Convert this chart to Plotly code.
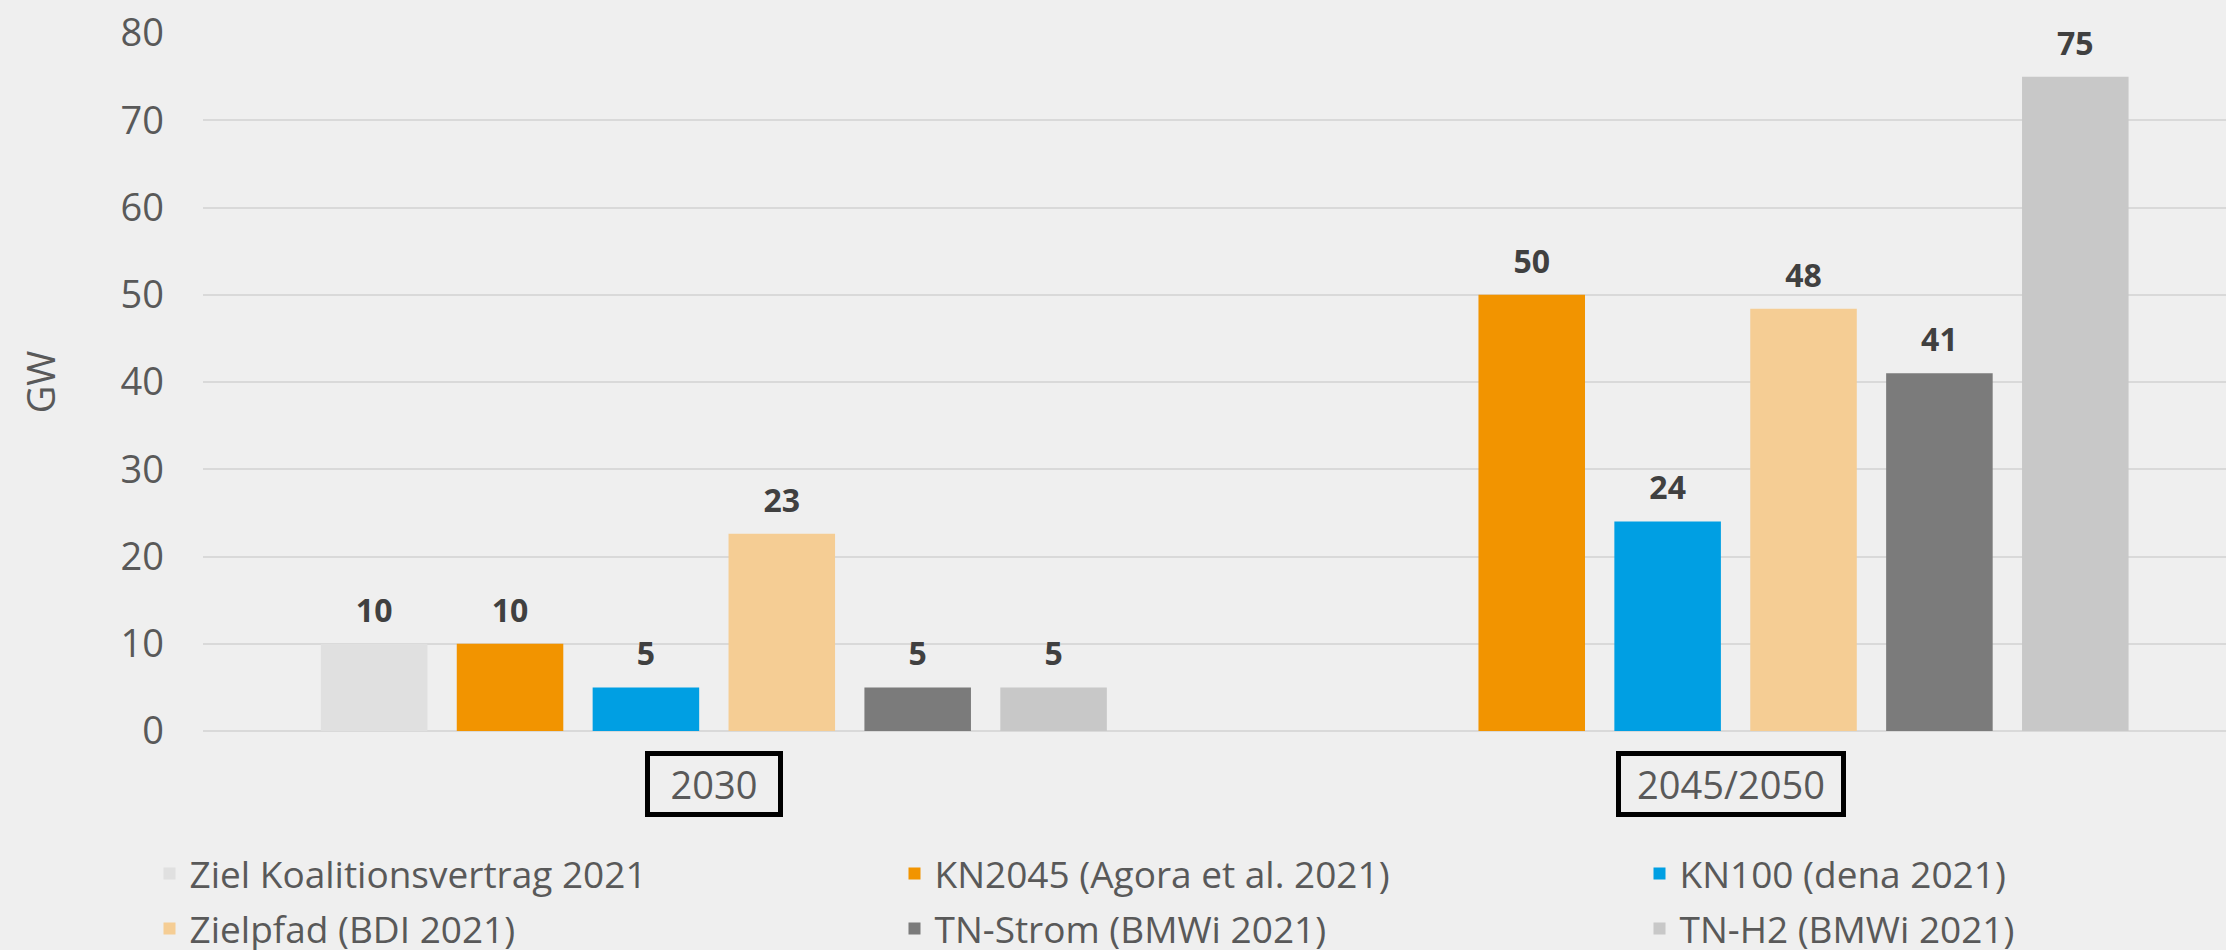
import plotly.graph_objects as go

categories = ["2030", "2045/2050"]
series_names = [
    "Ziel Koalitionsvertrag 2021",
    "KN2045 (Agora et al. 2021)",
    "KN100 (dena 2021)",
    "Zielpfad (BDI 2021)",
    "TN-Strom (BMWi 2021)",
    "TN-H2 (BMWi 2021)",
]
ziel_koalition = [10, None]
kn2045 = [10, 50]
kn100 = [5, 24]
zielpfad = [22.6, 48.4]
tn_strom = [5, 41]
tn_h2 = [5, 75]
y_ticks = [0, 10, 20, 30, 40, 50, 60, 70, 80]

series_values = [ziel_koalition, kn2045, kn100, zielpfad, tn_strom, tn_h2]
colors = ["#e0e0e0", "#f29400", "#009fe3", "#f5cd94", "#7b7b7b", "#c8c8c8"]

FONT = "Open Sans"
TXT = "#595959"

# legend grid: 3 columns x 2 rows (pixel positions in the page)
legend_cols_px = [149.5, 894.5, 1639.5]
legend_rows_px = [874, 929]

fig = go.Figure()
legend_layout = {}
for i, (name, vals, col) in enumerate(zip(series_names, series_values, colors)):
    lid = "legend" if i == 0 else f"legend{i + 1}"
    fig.add_trace(go.Bar(
        x=categories, y=vals, name=name,
        marker=dict(color=col, line=dict(width=0)),
        textposition="none", legend=lid,
    ))
    legend_layout[lid] = dict(
        orientation="h", xref="container", yref="container",
        xanchor="left", yanchor="middle",
        x=legend_cols_px[i % 3] / 2226, y=1 - legend_rows_px[i // 3] / 950,
        font=dict(family=FONT, size=37, color=TXT), bgcolor="rgba(0,0,0,0)",
    )

# value labels, grouped like the bars
for name, vals in zip(series_names, series_values):
    fig.add_trace(go.Scatter(
        x=categories, y=vals, mode="markers+text", name=name,
        marker=dict(size=21, opacity=0), texttemplate="%{y:.0f}",
        textposition="top center",
        textfont=dict(family=FONT, size=32, color="#404040", weight="bold"),
        showlegend=False, hoverinfo="skip", cliponaxis=False,
    ))

for i, (cat, w, xs) in enumerate(zip(categories, [128, 220], [0, -5])):
    fig.add_annotation(
        x=i, y=0, xref="x", yref="y", yanchor="top", yshift=-20, xshift=xs,
        text=cat, showarrow=False, width=w, height=56,
        bordercolor="black", borderwidth=5, borderpad=0,
        font=dict(family=FONT, size=38, color=TXT),
    )

fig.update_layout(
    width=2226, height=950,
    paper_bgcolor="#efefef", plot_bgcolor="#efefef",
    margin=dict(l=203, r=0, t=33, b=219),
    barmode="group", bargap=0.202, bargroupgap=0.216,
    scattermode="group", scattergap=0.202,
    xaxis=dict(range=[-0.5, 1.48], showticklabels=False, showgrid=False,
               showline=False, zeroline=False, ticks=""),
    yaxis=dict(range=[0, 80], tickvals=y_ticks, showgrid=True, gridcolor="#d9d9d9",
               gridwidth=2, zeroline=True, zerolinecolor="#d9d9d9", zerolinewidth=2,
               showline=False, ticks="", ticklabelstandoff=38, automargin=False,
               tickfont=dict(family=FONT, size=38, color=TXT),
               title=dict(text="GW", standoff=53, font=dict(family=FONT, size=38, color=TXT))),
    showlegend=True,
    **legend_layout,
)

fig.write_html(
    "out.html",
    config={"displayModeBar": False},
    post_script="document.body.style.margin='0';document.body.style.background='#efefef';",
)
